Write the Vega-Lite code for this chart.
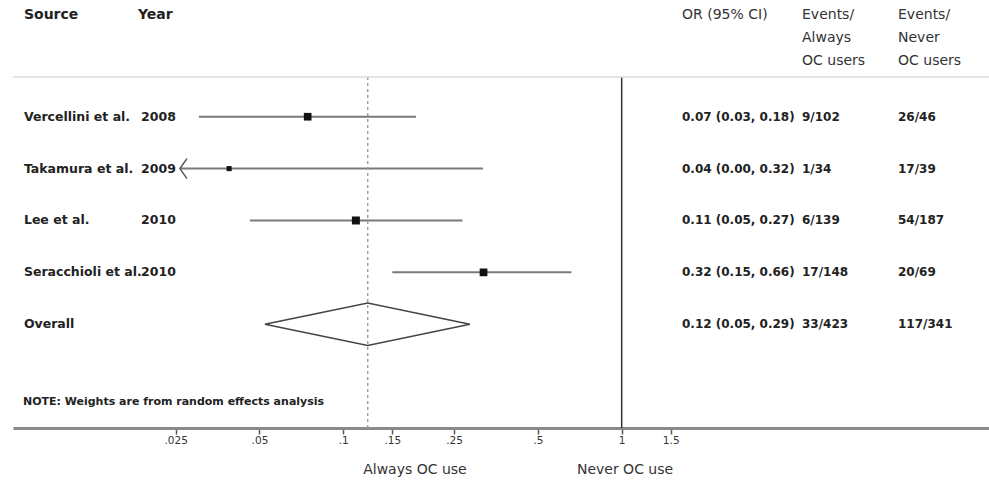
{
  "$schema": "https://vega.github.io/schema/vega-lite/v6.json",
  "width": 976,
  "height": 428,
  "autosize": {"type": "none"},
  "padding": {"left": 13, "top": 0, "right": 0, "bottom": 53},
  "background": "white",
  "config": {"view": {"stroke": null}, "font": "DejaVu Sans"},
  "datasets": {
    "rows": [
      {"kind": "study", "study": "Vercellini et al.", "year": "2008", "row": 1, "or": 0.0745, "lo": 0.0303, "hi": 0.1824, "ci": "0.07 (0.03, 0.18)", "always": "9/102", "never": "26/46", "weight": 28.5, "clipped": false},
      {"kind": "study", "study": "Takamura et al.", "year": "2009", "row": 2, "or": 0.0389, "lo": 0.0259, "hi": 0.3175, "ci": "0.04 (0.00, 0.32)", "always": "1/34", "never": "17/39", "weight": 12.5, "clipped": true},
      {"kind": "study", "study": "Lee et al.", "year": "2010", "row": 3, "or": 0.111, "lo": 0.0462, "hi": 0.268, "ci": "0.11 (0.05, 0.27)", "always": "6/139", "never": "54/187", "weight": 31, "clipped": false},
      {"kind": "study", "study": "Seracchioli et al.", "year": "2010", "row": 4, "or": 0.319, "lo": 0.15, "hi": 0.66, "ci": "0.32 (0.15, 0.66)", "always": "17/148", "never": "20/69", "weight": 29, "clipped": false},
      {"kind": "overall", "study": "Overall", "year": "", "row": 5, "or": 0.1224, "lo": 0.0523, "hi": 0.285, "ci": "0.12 (0.05, 0.29)", "always": "33/423", "never": "117/341", "weight": null, "clipped": false}
    ],
    "diamond": [
      {"v": 1, "x": 0.0523, "y": 5.0},
      {"v": 2, "x": 0.1224, "y": 4.59},
      {"v": 3, "x": 0.285, "y": 5.0},
      {"v": 4, "x": 0.1224, "y": 5.41},
      {"v": 5, "x": 0.0523, "y": 5.0}
    ]
  },
  "layer": [
    {
      "data": {"name": "rows"},
      "transform": [{"filter": "datum.kind === 'study'"}],
      "mark": {"type": "rule", "color": "#7a7a7a", "strokeWidth": 2},
      "encoding": {
        "x": {
          "field": "lo", "type": "quantitative", "title": null,
          "scale": {"type": "log", "domain": [0.006512, 20.86], "nice": false, "zero": false},
          "axis": {
            "title": null,
            "values": [0.025, 0.05, 0.1, 0.15, 0.25, 0.5, 1, 1.5],
            "labelExpr": "datum.value < 1 ? substring(format(datum.value, '~g'), 1) : format(datum.value, '~g')",
            "grid": false,
            "domainColor": "#8a8a8a", "domainWidth": 3,
            "tickColor": "#555", "tickWidth": 1.5, "tickSize": 6,
            "labelFont": "DejaVu Sans", "labelFontSize": 10.5, "labelColor": "#333",
            "labelPadding": 1, "labelFlush": false, "labelOverlap": false
          }
        },
        "x2": {"field": "hi"},
        "y": {"field": "row", "type": "quantitative", "scale": {"domain": [-1.25, 7], "reverse": true, "nice": false, "zero": false}, "axis": null}
      }
    },
    {
      "data": {"name": "rows"},
      "transform": [{"filter": "datum.clipped"}],
      "mark": {"type": "point", "shape": "M0.7,-1L0,0L0.7,1", "filled": false, "stroke": "#555", "strokeWidth": 1.5, "size": 400, "opacity": 1},
      "encoding": {
        "x": {"field": "lo", "type": "quantitative", "title": null},
        "y": {"field": "row", "type": "quantitative"}
      }
    },
    {
      "data": {"name": "rows"},
      "transform": [{"filter": "datum.kind === 'study'"}],
      "mark": {"type": "square", "filled": true, "color": "#111", "opacity": 1},
      "encoding": {
        "x": {"field": "or", "type": "quantitative", "title": null},
        "y": {"field": "row", "type": "quantitative"},
        "size": {"field": "weight", "type": "quantitative", "scale": {"domain": [0, 31], "range": [0, 64]}, "legend": null}
      }
    },
    {
      "data": {"name": "diamond"},
      "mark": {"type": "line", "color": "#444", "strokeWidth": 1.5},
      "encoding": {
        "x": {"field": "x", "type": "quantitative", "title": null},
        "y": {"field": "y", "type": "quantitative"},
        "order": {"field": "v", "type": "quantitative"}
      }
    },
    {
      "data": {"values": [{}]},
      "mark": {"type": "rule", "color": "#a0a0a0", "strokeWidth": 1.5, "strokeDash": [3, 3]},
      "encoding": {
        "x": {"datum": 0.1224},
        "y": {"datum": 0.235},
        "y2": {"datum": 7}
      }
    },
    {
      "data": {"values": [{}]},
      "mark": {"type": "rule", "color": "#333", "strokeWidth": 1.5},
      "encoding": {
        "x": {"datum": 1},
        "y": {"datum": 0.235},
        "y2": {"datum": 7}
      }
    },
    {
      "data": {"values": [{}]},
      "mark": {"type": "rule", "color": "#dddddd", "strokeWidth": 1.5},
      "encoding": {
        "x": {"datum": 0.006512},
        "x2": {"datum": 20.86},
        "y": {"datum": 0.235}
      }
    },
    {
      "data": {"name": "rows"},
      "mark": {"type": "text", "align": "left", "baseline": "middle", "fontSize": 12.5, "fontWeight": "bold", "color": "#222"},
      "encoding": {
        "x": {"datum": 0.007128},
        "y": {"field": "row", "type": "quantitative"},
        "text": {"field": "study"}
      }
    },
    {
      "data": {"name": "rows"},
      "mark": {"type": "text", "align": "left", "baseline": "middle", "fontSize": 12.5, "fontWeight": "bold", "color": "#222"},
      "encoding": {
        "x": {"datum": 0.01878},
        "y": {"field": "row", "type": "quantitative"},
        "text": {"field": "year"}
      }
    },
    {
      "data": {"name": "rows"},
      "mark": {"type": "text", "align": "left", "baseline": "middle", "fontSize": 12, "fontWeight": "bold", "color": "#222"},
      "encoding": {
        "x": {"datum": 1.6467},
        "y": {"field": "row", "type": "quantitative"},
        "text": {"field": "ci"}
      }
    },
    {
      "data": {"name": "rows"},
      "mark": {"type": "text", "align": "left", "baseline": "middle", "fontSize": 12, "fontWeight": "bold", "color": "#222"},
      "encoding": {
        "x": {"datum": 4.443},
        "y": {"field": "row", "type": "quantitative"},
        "text": {"field": "always"}
      }
    },
    {
      "data": {"name": "rows"},
      "mark": {"type": "text", "align": "left", "baseline": "middle", "fontSize": 12, "fontWeight": "bold", "color": "#222"},
      "encoding": {
        "x": {"datum": 9.829},
        "y": {"field": "row", "type": "quantitative"},
        "text": {"field": "never"}
      }
    },
    {
      "data": {"values": [{"h": "Source"}]},
      "mark": {"type": "text", "align": "left", "baseline": "top", "fontSize": 14, "fontWeight": "bold", "color": "#222"},
      "encoding": {"x": {"datum": 0.007128}, "y": {"datum": -1.094}, "text": {"field": "h"}}
    },
    {
      "data": {"values": [{"h": "Year"}]},
      "mark": {"type": "text", "align": "left", "baseline": "top", "fontSize": 14, "fontWeight": "bold", "color": "#222"},
      "encoding": {"x": {"datum": 0.01831}, "y": {"datum": -1.094}, "text": {"field": "h"}}
    },
    {
      "data": {"values": [{"h": "OR (95% CI)"}]},
      "mark": {"type": "text", "align": "left", "baseline": "top", "fontSize": 14, "color": "#333"},
      "encoding": {"x": {"datum": 1.6467}, "y": {"datum": -1.094}, "text": {"field": "h"}}
    },
    {
      "data": {"values": [{"h": "Events/\nAlways\nOC users"}]},
      "mark": {"type": "text", "align": "left", "baseline": "top", "fontSize": 14, "color": "#333", "lineBreak": "\n", "lineHeight": 23},
      "encoding": {"x": {"datum": 4.443}, "y": {"datum": -1.094}, "text": {"field": "h"}}
    },
    {
      "data": {"values": [{"h": "Events/\nNever\nOC users"}]},
      "mark": {"type": "text", "align": "left", "baseline": "top", "fontSize": 14, "color": "#333", "lineBreak": "\n", "lineHeight": 23},
      "encoding": {"x": {"datum": 9.829}, "y": {"datum": -1.094}, "text": {"field": "h"}}
    },
    {
      "data": {"values": [{"note": "NOTE: Weights are from random effects analysis"}]},
      "mark": {"type": "text", "align": "left", "baseline": "middle", "fontSize": 11, "fontWeight": "bold", "color": "#222"},
      "encoding": {"x": {"datum": 0.007069}, "y": {"datum": 6.5}, "text": {"field": "note"}}
    },
    {
      "data": {"values": [{"t": "Always OC use"}]},
      "mark": {"type": "text", "align": "center", "baseline": "middle", "fontSize": 14, "color": "#333"},
      "encoding": {"x": {"datum": 0.1809}, "y": {"datum": 7.81}, "text": {"field": "t"}}
    },
    {
      "data": {"values": [{"t": "Never OC use"}]},
      "mark": {"type": "text", "align": "center", "baseline": "middle", "fontSize": 14, "color": "#333"},
      "encoding": {"x": {"datum": 1.028}, "y": {"datum": 7.81}, "text": {"field": "t"}}
    }
  ]
}
